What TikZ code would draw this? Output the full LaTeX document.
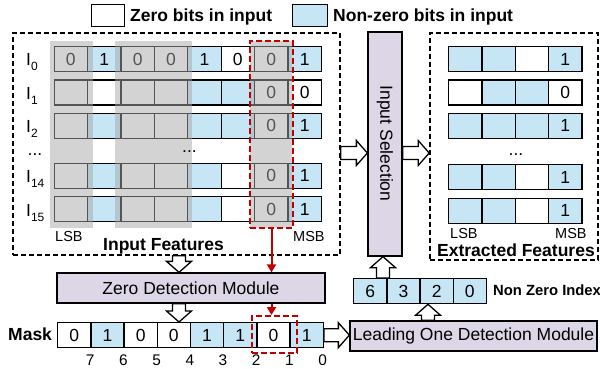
\documentclass[tikz,border=0pt]{standalone}
\usepackage{fontspec}
\setmainfont{Liberation Sans}
\usetikzlibrary{calc,arrows.meta}
\definecolor{cblue}{RGB}{198,230,245}
\definecolor{clav}{RGB}{221,214,230}
\definecolor{cred}{RGB}{192,0,0}
\tikzset{
 cellbox/.style={draw=black, line width=1.3pt, minimum width=33.4pt, minimum height=25pt, inner sep=0pt, anchor=north west, font=\fontsize{17.5}{20}\selectfont},
 cellb/.style={cellbox, fill=cblue},
 cellw/.style={cellbox, fill=white},
 modbox/.style={draw=black, line width=1.3pt, fill=clav, inner sep=0pt, font=\fontsize{17.5}{20}\selectfont},
 dashbox/.style={draw=black, line width=1.6pt, dash pattern=on 5pt off 3pt, inner sep=0pt},
 redbox/.style={draw=cred, line width=2pt, dash pattern=on 6pt off 3pt, inner sep=0pt},
 lbl/.style={inner sep=0pt, font=\fontsize{17.5}{20}\selectfont},
 blbl/.style={inner sep=0pt, font=\fontsize{17.5}{20}\selectfont\bfseries},
 smalllbl/.style={inner sep=0pt, font=\fontsize{14.5}{16}\selectfont},
 idxlbl/.style={inner sep=0pt, font=\fontsize{15.4}{17}\selectfont},
 nzlbl/.style={inner sep=0pt, font=\fontsize{14.8}{17}\selectfont\bfseries},
 harrow/.style={draw=black, fill=white, line width=1.3pt, line join=miter},
 band/.style={fill=black!34, fill opacity=0.5},
 redarrow/.style={draw=cred, line width=2pt, -{Triangle[length=8pt,width=9pt]}},
}
\newcommand\cellrow[5]{\foreach \t/\v [count=\c from 0] in {#5} {\node[cell\t, minimum width=#4pt] (#1\c) at ({#2+#4*\c},#3) {\v};}}
\newcommand\hollowarrow[2]{%
 \coordinate (ha-h) at ($(#2)!11pt!(#1)$);
 \filldraw[harrow] ($(#1)!6.5pt!90:(#2)$) -- ($(ha-h)!6.5pt!90:(#2)$) -- ($(ha-h)!12.5pt!90:(#2)$) -- (#2) -- ($(ha-h)!12.5pt!-90:(#2)$) -- ($(ha-h)!6.5pt!-90:(#2)$) -- ($(#1)!6.5pt!-90:(#2)$) -- cycle;}
\begin{document}
\begin{tikzpicture}[x=1pt,y=-1pt]
\useasboundingbox (0,0) rectangle (600,369);
% legend
\node[cellw, minimum width=33pt, minimum height=22pt] (legw) at (91,4) {};
\node[blbl, anchor=base west] (legwt) at (130,21.5) {Zero bits in input};
\node[cellb, minimum width=35pt, minimum height=22pt] (legb) at (292,4) {};
\node[blbl, anchor=base west] (legbt) at (333,21.5) {Non-zero bits in input};
% dashed boxes
\node[dashbox, minimum width=327pt, minimum height=222pt] (inF) at (176.5,144) {};
\node[dashbox, minimum width=168pt, minimum height=227pt] (ext) at (514,146.5) {};
% input rows
\cellrow{ra}{53.5}{46}{33.4}{w/0,b/1,w/0,w/0,b/1,w/0,w/0,b/1}
\cellrow{rb}{53.5}{79.3}{33.4}{w/{},w/{},w/{},w/{},b/{},b/{},w/0,w/0}
\cellrow{rc}{53.5}{112.6}{33.4}{w/{},b/{},w/{},w/{},b/{},b/{},w/0,b/1}
\cellrow{rd}{53.5}{162.6}{33.4}{w/{},b/{},w/{},w/{},b/{},w/{},w/0,b/1}
\cellrow{re}{53.5}{196}{33.4}{w/{},b/{},w/{},w/{},b/{},w/{},w/0,b/1}
% gray bands
\fill[band] (50,41) rectangle (93,228);
\fill[band] (115,41) rectangle (192,228);
\fill[band] (250,41) rectangle (292,228);
\node[redbox, minimum width=43pt, minimum height=187pt] (rb1) at (271.5,134.5) {};
% row labels
\node[lbl, anchor=base west] (l0) at (26,66) {I\raisebox{-5pt}{\fontsize{12}{12}\selectfont 0}};
\node[lbl, anchor=base west] (l1) at (26,99.3) {I\raisebox{-5pt}{\fontsize{12}{12}\selectfont 1}};
\node[lbl, anchor=base west] (l2) at (26,132.6) {I\raisebox{-5pt}{\fontsize{12}{12}\selectfont 2}};
\node[lbl, anchor=base] (ldots) at (35,155) {...};
\node[lbl, anchor=base west] (l14) at (26,182.6) {I\raisebox{-5pt}{\fontsize{12}{12}\selectfont 14}};
\node[lbl, anchor=base west] (l15) at (26,216) {I\raisebox{-5pt}{\fontsize{12}{12}\selectfont 15}};
\node[lbl, anchor=base] (idots) at (189.5,152) {...};
\node[smalllbl, anchor=base west] (lsb1) at (55,241.5) {LSB};
\node[smalllbl, anchor=base west] (msb1) at (293,241.5) {MSB};
\node[blbl, anchor=base west] (inFt) at (103,250.5) {Input Features};
% input selection
\node[modbox, minimum width=34pt, minimum height=224pt] (sel) at (385,144) {};
\node[lbl, rotate=-90] (selt) at (385,143.5) {Input Selection};
% extracted rows
\cellrow{xa}{448}{46}{33.3}{b/{},b/{},w/{},b/1}
\cellrow{xb}{448}{79.3}{33.3}{w/{},b/{},b/{},w/0}
\cellrow{xc}{448}{112.6}{33.3}{b/{},b/{},b/{},b/1}
\cellrow{xd}{448}{164}{33.3}{b/{},b/{},w/{},b/1}
\cellrow{xe}{448}{197.5}{33.3}{b/{},b/{},w/{},b/1}
\node[lbl, anchor=base] (xdots) at (516,155) {...};
\node[smalllbl, anchor=base west] (lsb2) at (450,238.5) {LSB};
\node[smalllbl, anchor=base west] (msb2) at (555,238.5) {MSB};
\node[blbl, anchor=base west] (extt) at (437,256) {Extracted Features};
% modules
\node[modbox, minimum width=268pt, minimum height=30pt] (zdm) at (191,288) {Zero Detection Module};
\node[modbox, minimum width=247pt, minimum height=30pt] (lodm) at (473.5,336) {Leading One Detection Module};
% mask
\node[blbl, anchor=base west] (maskl) at (8,340.5) {Mask};
\cellrow{m}{57}{322}{33.2}{w/0,b/1,w/0,w/0,b/1,b/1,w/0,b/1}
\foreach \k [count=\i from 1] in {7,6,5,4,3,2,1,0} {\node[idxlbl, anchor=base] (ix\i) at ({57+33.2*\i},365) {\k};}
\node[redbox, minimum width=45pt, minimum height=37pt] (rb2) at (274.5,334.5) {};
% non zero index
\cellrow{n}{353}{278}{33.2}{b/6,b/3,b/2,b/0}
\node[nzlbl, anchor=base west] (nzl) at (493,295.5) {Non Zero Index};
% hollow arrows
\coordinate (a1e) at ($(zdm.north)+(-12,0)$);
\coordinate (a1s) at (a1e |- inF.south);
\hollowarrow{a1s}{a1e}
\coordinate (a2s) at ($(zdm.south)+(-12,0)$);
\coordinate (a2e) at (a2s |- m0.north);
\hollowarrow{a2s}{a2e}
\coordinate (a3s) at ($(inF.east)+(0,9)$);
\coordinate (a3e) at (a3s -| sel.west);
\hollowarrow{a3s}{a3e}
\coordinate (a4s) at ($(sel.east)+(0,9)$);
\coordinate (a4e) at (a4s -| ext.west);
\hollowarrow{a4s}{a4e}
\coordinate (a5e) at ($(sel.south)+(-2,0)$);
\coordinate (a5s) at (a5e |- n0.north);
\hollowarrow{a5s}{a5e}
\coordinate (a6s) at ($(lodm.north)+(-45.5,0)$);
\coordinate (a6e) at (a6s |- n0.south);
\hollowarrow{a6s}{a6e}
\coordinate (a7s) at (m7.east);
\coordinate (a7e) at (a7s -| lodm.west);
\hollowarrow{a7s}{a7e}
% red arrows
\coordinate (r1s) at (rb1.south);
\coordinate (r1e) at (rb1.south |- zdm.north);
\draw[redarrow] (r1s) -- (r1e);
\coordinate (r2s) at (rb1.south |- zdm.south);
\coordinate (r2e) at (rb1.south |- rb2.north);
\draw[redarrow] (r2s) -- (r2e);
\end{tikzpicture}
\end{document}
